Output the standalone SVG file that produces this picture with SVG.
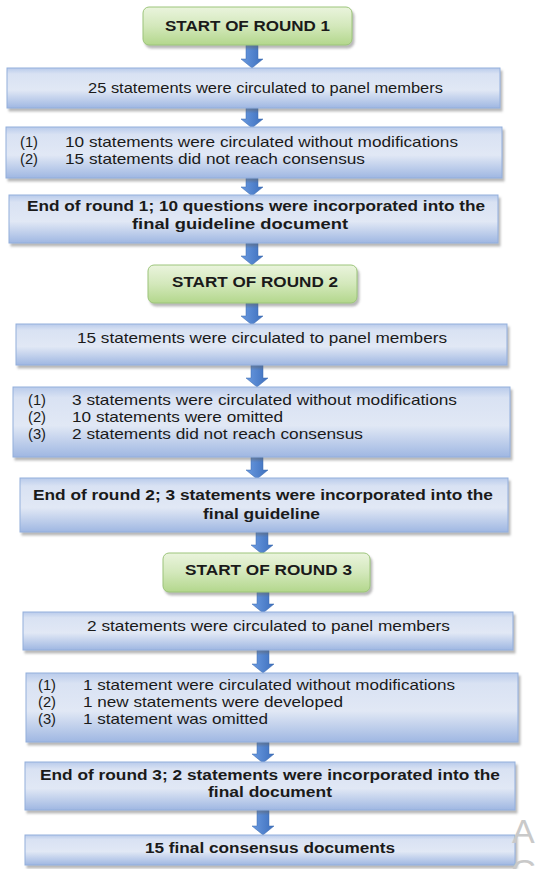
<svg xmlns="http://www.w3.org/2000/svg" width="536" height="869" viewBox="0 0 536 869">
<defs>
<linearGradient id="gBlue" x1="0" y1="0" x2="0" y2="1">
<stop offset="0" stop-color="#b9cbeb"/>
<stop offset="0.15" stop-color="#d9e2f3"/>
<stop offset="0.55" stop-color="#e1e8f5"/>
<stop offset="1" stop-color="#9fb7e2"/>
</linearGradient>
<linearGradient id="gGreen" x1="0" y1="0" x2="0" y2="1">
<stop offset="0" stop-color="#eaf4dd"/>
<stop offset="0.5" stop-color="#d3e8bb"/>
<stop offset="1" stop-color="#b3d78c"/>
</linearGradient>
<linearGradient id="gArrow" x1="0" y1="0" x2="1" y2="0">
<stop offset="0" stop-color="#6a9ae0"/>
<stop offset="1" stop-color="#3d6fbd"/>
</linearGradient>
<filter id="sh" x="-5%" y="-20%" width="110%" height="150%">
<feDropShadow dx="2" dy="3" stdDeviation="1.2" flood-color="#666" flood-opacity="0.45"/>
</filter>
</defs>
<style>
.box{fill:url(#gBlue);stroke:#93afdc;stroke-width:1;filter:url(#sh)}
.start{fill:url(#gGreen);stroke:#9cc47a;stroke-width:1;filter:url(#sh)}
.t{font-family:"Liberation Sans",Arial,sans-serif;font-size:14.5px;fill:#1a1a1a}
.b{font-family:"Liberation Sans",Arial,sans-serif;font-size:14.5px;font-weight:bold;fill:#1a1a1a}
.c{text-anchor:middle}
.ar{fill:url(#gArrow);stroke:#3a68ad;stroke-width:0.5}
.wm{font-family:"Liberation Sans",Arial,sans-serif;font-size:34px;fill:#c9c9c9}
</style>

<g id="connectors">
<path class="ar" d="M246,45 H258 V59 H263 L252,68 L241,59 H246 Z"/>
<path class="ar" d="M246,108 H258 V119 H263 L252,128 L241,119 H246 Z"/>
<path class="ar" d="M246,178 H258 V187 H263 L252,196 L241,187 H246 Z"/>
<path class="ar" d="M246,243 H258 V256 H263 L252,265 L241,256 H246 Z"/>
<path class="ar" d="M246,303 H258 V316 H263 L252,325 L241,316 H246 Z"/>
<path class="ar" d="M251,365 H263 V378 H268 L257,387 L246,378 H251 Z"/>
<path class="ar" d="M251,457 H263 V470 H268 L257,479 L246,470 H251 Z"/>
<path class="ar" d="M256,532 H268 V545 H273 L262,554 L251,545 H256 Z"/>
<path class="ar" d="M257,592 H269 V604 H274 L263,613 L252,604 H257 Z"/>
<path class="ar" d="M257,650 H269 V664 H274 L263,673 L252,664 H257 Z"/>
<path class="ar" d="M257,742 H269 V754 H274 L263,763 L252,754 H257 Z"/>
<path class="ar" d="M257,810 H269 V826 H274 L263,835 L252,826 H257 Z"/>
</g>

<g id="start1">
<rect class="start" x="143" y="7" width="209" height="38" rx="6"/>
<text class="b c" x="247.5" y="31" textLength="165" lengthAdjust="spacingAndGlyphs">START OF ROUND 1</text>
</g>

<g id="r1circ">
<rect class="box" x="7" y="68" width="493" height="40"/>
<text class="t c" x="265.5" y="93" textLength="355" lengthAdjust="spacingAndGlyphs">25 statements were circulated to panel members</text>
</g>

<g id="r1res">
<rect class="box" x="6" y="127" width="496" height="51"/>
<text class="t" x="20" y="147" textLength="18" lengthAdjust="spacingAndGlyphs">(1)</text>
<text class="t" x="65" y="147" textLength="393" lengthAdjust="spacingAndGlyphs">10 statements were circulated without modifications</text>
<text class="t" x="20" y="164" textLength="18" lengthAdjust="spacingAndGlyphs">(2)</text>
<text class="t" x="65" y="164" textLength="300" lengthAdjust="spacingAndGlyphs">15 statements did not reach consensus</text>
</g>

<g id="r1end">
<rect class="box" x="9" y="195" width="489" height="48"/>
<text class="b c" x="256" y="211" textLength="458" lengthAdjust="spacingAndGlyphs">End of round 1; 10 questions were incorporated into the</text>
<text class="b c" x="240" y="229" textLength="216" lengthAdjust="spacingAndGlyphs">final guideline document</text>
</g>

<g id="start2">
<rect class="start" x="148" y="265" width="209" height="38" rx="6"/>
<text class="b c" x="255" y="287" textLength="166" lengthAdjust="spacingAndGlyphs">START OF ROUND 2</text>
</g>

<g id="r2circ">
<rect class="box" x="16" y="324" width="491" height="41"/>
<text class="t c" x="262" y="343" textLength="370" lengthAdjust="spacingAndGlyphs">15 statements were circulated to panel members</text>
</g>

<g id="r2res">
<rect class="box" x="13" y="387" width="497" height="70"/>
<text class="t" x="28" y="405" textLength="18" lengthAdjust="spacingAndGlyphs">(1)</text>
<text class="t" x="72" y="405" textLength="385" lengthAdjust="spacingAndGlyphs">3 statements were circulated without modifications</text>
<text class="t" x="28" y="422" textLength="18" lengthAdjust="spacingAndGlyphs">(2)</text>
<text class="t" x="72" y="422" textLength="211" lengthAdjust="spacingAndGlyphs">10 statements were omitted</text>
<text class="t" x="28" y="439" textLength="18" lengthAdjust="spacingAndGlyphs">(3)</text>
<text class="t" x="72" y="439" textLength="291" lengthAdjust="spacingAndGlyphs">2 statements did not reach consensus</text>
</g>

<g id="r2end">
<rect class="box" x="20" y="478" width="488" height="54"/>
<text class="b c" x="263" y="500" textLength="460" lengthAdjust="spacingAndGlyphs">End of round 2; 3 statements were incorporated into the</text>
<text class="b c" x="261.5" y="519" textLength="117" lengthAdjust="spacingAndGlyphs">final guideline</text>
</g>

<g id="start3">
<rect class="start" x="163" y="553" width="207" height="39" rx="6"/>
<text class="b c" x="268.5" y="575" textLength="167" lengthAdjust="spacingAndGlyphs">START OF ROUND 3</text>
</g>

<g id="r3circ">
<rect class="box" x="23" y="612" width="490" height="38"/>
<text class="t c" x="268.5" y="631" textLength="363" lengthAdjust="spacingAndGlyphs">2 statements were circulated to panel members</text>
</g>

<g id="r3res">
<rect class="box" x="26" y="673" width="492" height="69"/>
<text class="t" x="38" y="690" textLength="18" lengthAdjust="spacingAndGlyphs">(1)</text>
<text class="t" x="83" y="690" textLength="372" lengthAdjust="spacingAndGlyphs">1 statement were circulated without modifications</text>
<text class="t" x="38" y="707" textLength="18" lengthAdjust="spacingAndGlyphs">(2)</text>
<text class="t" x="83" y="707" textLength="260" lengthAdjust="spacingAndGlyphs">1 new statements were developed</text>
<text class="t" x="38" y="724" textLength="18" lengthAdjust="spacingAndGlyphs">(3)</text>
<text class="t" x="83" y="724" textLength="185" lengthAdjust="spacingAndGlyphs">1 statement was omitted</text>
</g>

<g id="r3end">
<rect class="box" x="25" y="762" width="490" height="48"/>
<text class="b c" x="270" y="780" textLength="460" lengthAdjust="spacingAndGlyphs">End of round 3; 2 statements were incorporated into the</text>
<text class="b c" x="270" y="797" textLength="124" lengthAdjust="spacingAndGlyphs">final document</text>
</g>

<g id="final">
<rect class="box" x="25" y="835" width="490" height="30"/>
<text class="b c" x="270" y="853" textLength="250" lengthAdjust="spacingAndGlyphs">15 final consensus documents</text>
</g>

<text class="wm" x="512" y="843">A</text>
<text class="wm" x="511" y="883">G</text>
</svg>
